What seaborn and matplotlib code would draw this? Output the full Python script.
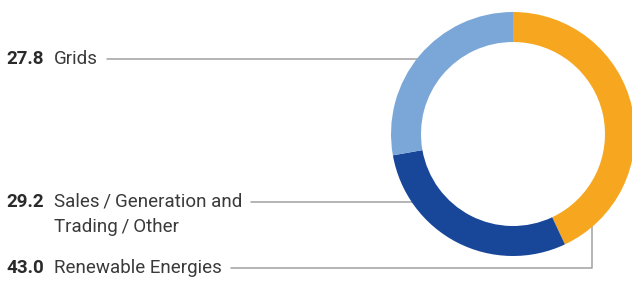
import matplotlib
matplotlib.use("Agg")
import matplotlib.pyplot as plt
import seaborn as sns

# data (clockwise from 12 o'clock)
segments = ["Renewable Energies",
            "Sales\u2009/\u2009Generation and\nTrading\u2009/\u2009Other",
            "Grids"]
shares = [43.0, 29.2, 27.8]
colors = ["#F6A61F", "#18479A", "#7BA7D8"]

sns.set_style("white")
plt.rcParams["font.family"] = ["Roboto", "DejaVu Sans"]

W, H = 632, 282
fig = plt.figure(figsize=(W / 100, H / 100), dpi=100)
ax = fig.add_axes([0, 0, 1, 1])

cx, cy, R, ring = 513, H - 134, 122, 30
ax.pie(shares, colors=colors, startangle=90, counterclock=False,
       center=(cx, cy), radius=R, frame=True,
       wedgeprops=dict(width=ring, linewidth=0, zorder=3))
ax.set_xlim(0, W)
ax.set_ylim(0, H)
ax.set_aspect("equal")
ax.axis("off")

txt = "#3a3a3a"
line_c = "#A0A0A0"
fs = 13.5
# label rows: (y of first line, line end x, optional vertical end)
rows = {
    segments[2]: (H - 59, 435, None),
    segments[1]: (H - 202, 430, None),
    segments[0]: (H - 268, 592, H - 215),
}
val = dict(zip(segments, shares))
fig.canvas.draw()
r = fig.canvas.get_renderer()
for name, (y, xend, vend) in rows.items():
    ax.text(6, y, f"{val[name]:.1f}", fontsize=fs, fontweight="bold",
            color="#2a2a2a", va="center", ha="left")
    lines = name.split("\n")
    t = ax.text(54, y, lines[0], fontsize=fs, color=txt, va="center", ha="left")
    for i, extra in enumerate(lines[1:], 1):
        ax.text(54, y - 25 * i, extra, fontsize=fs, color=txt,
                va="center", ha="left")
    bb = t.get_window_extent(r)
    x0 = bb.x1 + 9
    xs, ys = [x0, xend], [y, y]
    if vend is not None:
        xs.append(xend)
        ys.append(vend)
    ax.plot(xs, ys, color=line_c, lw=1.1, zorder=1)

fig.savefig("out.png", dpi=100)
